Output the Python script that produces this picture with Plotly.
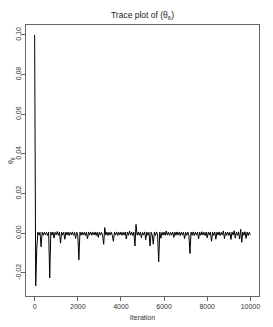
import plotly.graph_objects as go

# Iterations sampled every 50 steps (0 .. 10000)
iterations = list(range(0, 10001, 50))

theta6 = [
    0.100, -0.0265, -0.0075, 0.0006, -0.0009, 0.0005, -0.0068, 0.0005, -0.0010, 0.0006,
    -0.0008, 0.0005, -0.0011, 0.0006, -0.0225, 0.0006, -0.0009, 0.0007, -0.0024, 0.0005,
    -0.0008, 0.0009, -0.0010, 0.0006, -0.0050, 0.0006, -0.0009, 0.0005, -0.0030, 0.0006,
    -0.0009, 0.0006, -0.0011, 0.0005, -0.0008, 0.0007, -0.0010, 0.0005, -0.0026, 0.0006,
    -0.0009, -0.0134, 0.0006, -0.0010, 0.0006, -0.0009, 0.0005, -0.0011, 0.0006, -0.0028,
    0.0006, -0.0009, 0.0007, -0.0010, 0.0005, -0.0008, 0.0006, -0.0011, 0.0005, -0.0020,
    0.0006, -0.0009, 0.0005, -0.0010, -0.0055, 0.0029, -0.0009, 0.0006, -0.0011, 0.0005,
    -0.0009, 0.0006, -0.0010, -0.0040, 0.0006, -0.0009, 0.0007, -0.0011, 0.0005, -0.0008,
    0.0006, -0.0010, 0.0005, -0.0009, 0.0007, -0.0029, 0.0006, -0.0010, 0.0011, -0.0009,
    0.0005, -0.0011, 0.0006, -0.0064, 0.0045, -0.0009, 0.0006, -0.0010, 0.0006, -0.0022,
    0.0005, -0.0009, 0.0007, -0.0032, 0.0006, -0.0010, 0.0005, -0.0064, 0.0006, -0.0009,
    -0.0055, 0.0006, -0.0011, 0.0007, -0.0009, -0.0143, 0.0006, -0.0025, 0.0005, -0.0009,
    0.0006, -0.0010, 0.0012, -0.0009, 0.0006, -0.0011, 0.0005, -0.0009, 0.0006, -0.0021,
    0.0006, -0.0010, 0.0007, -0.0009, 0.0005, -0.0011, 0.0006, -0.0009, 0.0006, -0.0027,
    0.0005, -0.0010, 0.0006, -0.0009, -0.0102, 0.0006, -0.0010, 0.0007, -0.0011, 0.0005,
    -0.0009, 0.0006, -0.0028, 0.0006, -0.0010, 0.0008, -0.0009, 0.0005, -0.0011, 0.0006,
    -0.0023, 0.0006, -0.0009, 0.0007, -0.0040, 0.0005, -0.0010, 0.0006, -0.0030, 0.0006,
    -0.0009, 0.0007, -0.0011, 0.0005, -0.0009, 0.0012, -0.0027, 0.0006, -0.0010, 0.0006,
    -0.0011, 0.0005, -0.0031, 0.0006, -0.0009, 0.0013, -0.0024, 0.0006, -0.0010, 0.0007,
    -0.0029, 0.0020, -0.0045, 0.0006, -0.0010, 0.0008, -0.0026, 0.0006, -0.0011, 0.0005,
    -0.0008,
]

x_ticks = [0, 2000, 4000, 6000, 8000, 10000]
y_ticks = [-0.02, 0.00, 0.02, 0.04, 0.06, 0.08, 0.10]
y_tick_text = ["-0.02", "0.00", "0.02", "0.04", "0.06", "0.08", "0.10"]

FONT = "Liberation Sans, Arial, sans-serif"

fig = go.Figure()
fig.add_trace(go.Scatter(
    x=iterations, y=theta6, mode="lines",
    line=dict(color="black", width=1.0),
    showlegend=False, hoverinfo="skip",
))

axis_common = dict(
    showgrid=False, zeroline=False, automargin=False,
    showline=True, linecolor="#666666", linewidth=1, mirror=True,
    ticks="outside", ticklen=4, tickcolor="#666666", tickwidth=1,
    tickfont=dict(family=FONT, size=7, color="#333333"),
)

# The page body has an 8px default margin, so the figure is sized to fit the window.
fig.update_layout(
    width=265, height=319,
    margin=dict(l=18, r=14, t=17, b=31, autoexpand=False),
    paper_bgcolor="white", plot_bgcolor="white",
    title=dict(text="Trace plot of (θ<sub>6</sub>)", x=0.5075, xanchor="center",
               y=0.978, yanchor="middle", automargin=False,
               font=dict(family=FONT, size=8.5, color="#222222")),
    xaxis=dict(range=[-400, 10400], tickvals=x_ticks, ticktext=[str(v) for v in x_ticks],
               title=dict(text="Iteration", standoff=5,
                          font=dict(family=FONT, size=7, color="#333333")),
               **axis_common),
    yaxis=dict(range=[-0.0316, 0.105], tickvals=y_ticks, ticktext=y_tick_text,
               tickangle=-90, ticklabelstandoff=-3, **axis_common),
    annotations=[dict(text="θ<sub>6</sub>", xref="paper", yref="paper",
                      x=-0.066, y=0.5, xanchor="center", yanchor="middle",
                      textangle=-90, showarrow=False,
                      font=dict(family=FONT, size=7, color="#333333"))],
)

fig.write_html("out.html")
